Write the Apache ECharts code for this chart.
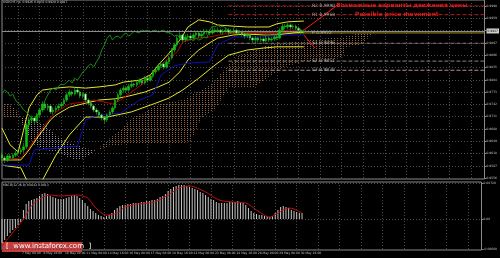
<!DOCTYPE html>
<html><head><meta charset="utf-8">
<script src="https://cdn.jsdelivr.net/npm/echarts@6/dist/echarts.min.js"></script>
<style>html,body{margin:0;padding:0;background:#000}#c{width:500px;height:258px}</style>
</head><body><div id="c"></div>
<script>
const N = 180; // bar slots incl. future area
const tickLabels = [[0,'4 May 2018'],[6,'7 May 08:00'],[14,'8 May 16:00'],[22,'10 May 00:00'],[30,'11 May 08:00'],[38,'14 May 16:00'],[46,'16 May 00:00'],[54,'17 May 08:00'],[62,'18 May 16:00'],[70,'22 May 00:00'],[78,'23 May 08:00'],[86,'24 May 16:00'],[94,'28 May 00:00'],[102,'29 May 08:00'],[110,'30 May 16:00']];
const priceTicks = [0.9990,0.9959,0.9928,0.9897,0.9866,0.9835,0.9804,0.9773,0.9742,0.9711,0.9680,0.9649,0.9618,0.9587,0.9556];
const priceLabels = [0.9990,0.9959,0.9897,0.9866,0.9835,0.9804,0.9773,0.9742,0.9711,0.9680,0.9649,0.9618,0.9587,0.9556];
const macdTicks = [0.0072,0,-0.0060];
// [open, close, low, high]
const ohlc = [
[0.9615,0.9607,0.9598,0.9620],[0.9607,0.9602,0.9594,0.9612],[0.9602,0.9612,0.9597,0.9617],[0.9612,0.9607,0.9601,0.9618],
[0.9607,0.9614,0.9603,0.9619],[0.9614,0.9619,0.9609,0.9625],[0.9619,0.9622,0.9612,0.9628],[0.9622,0.9627,0.9616,0.9633],
[0.9627,0.9635,0.9620,0.9645],[0.9635,0.9690,0.9630,0.9695],[0.9690,0.9703,0.9683,0.9710],[0.9703,0.9708,0.9695,0.9714],
[0.9708,0.9700,0.9692,0.9712],[0.9700,0.9715,0.9696,0.9720],[0.9715,0.9728,0.9710,0.9733],[0.9728,0.9743,0.9722,0.9750],
[0.9743,0.9733,0.9727,0.9748],[0.9733,0.9738,0.9726,0.9744],[0.9738,0.9723,0.9718,0.9742],[0.9723,0.9728,0.9716,0.9735],
[0.9728,0.9733,0.9722,0.9739],[0.9733,0.9738,0.9728,0.9744],[0.9738,0.9743,0.9731,0.9748],[0.9743,0.9753,0.9738,0.9758],
[0.9753,0.9766,0.9748,0.9772],[0.9766,0.9773,0.9760,0.9780],[0.9773,0.9768,0.9762,0.9777],[0.9768,0.9778,0.9764,0.9785],
[0.9778,0.9773,0.9768,0.9784],[0.9773,0.9763,0.9758,0.9777],[0.9763,0.9768,0.9757,0.9773],[0.9768,0.9753,0.9748,0.9771],
[0.9753,0.9745,0.9739,0.9757],[0.9745,0.9738,0.9732,0.9749],[0.9738,0.9728,0.9722,0.9741],[0.9728,0.9723,0.9716,0.9733],
[0.9723,0.9715,0.9709,0.9727],[0.9715,0.9708,0.9701,0.9719],[0.9708,0.9703,0.9694,0.9712],[0.9703,0.9715,0.9698,0.9719],
[0.9715,0.9723,0.9710,0.9728],[0.9723,0.9733,0.9718,0.9738],[0.9733,0.9753,0.9729,0.9758],[0.9753,0.9766,0.9748,0.9771],
[0.9766,0.9778,0.9761,0.9783],[0.9778,0.9783,0.9772,0.9790],[0.9783,0.9778,0.9773,0.9788],[0.9778,0.9788,0.9774,0.9794],
[0.9788,0.9793,0.9783,0.9799],[0.9793,0.9791,0.9785,0.9797],[0.9791,0.9798,0.9786,0.9803],[0.9798,0.9803,0.9792,0.9808],
[0.9803,0.9796,0.9790,0.9807],[0.9796,0.9808,0.9792,0.9813],[0.9808,0.9803,0.9797,0.9812],[0.9803,0.9813,0.9799,0.9818],
[0.9813,0.9824,0.9808,0.9829],[0.9824,0.9829,0.9818,0.9835],[0.9829,0.9839,0.9825,0.9845],[0.9839,0.9844,0.9833,0.9850],
[0.9844,0.9836,0.9830,0.9848],[0.9836,0.9849,0.9832,0.9854],[0.9849,0.9859,0.9844,0.9865],[0.9859,0.9879,0.9855,0.9884],
[0.9879,0.9892,0.9873,0.9898],[0.9892,0.9909,0.9887,0.9915],[0.9909,0.9917,0.9903,0.9924],[0.9917,0.9904,0.9898,0.9920],
[0.9904,0.9912,0.9899,0.9918],[0.9912,0.9914,0.9906,0.9920],[0.9914,0.9909,0.9903,0.9919],[0.9909,0.9917,0.9905,0.9922],
[0.9917,0.9922,0.9911,0.9928],[0.9922,0.9914,0.9909,0.9926],[0.9914,0.9919,0.9910,0.9925],[0.9919,0.9927,0.9915,0.9933],
[0.9927,0.9924,0.9918,0.9931],[0.9924,0.9922,0.9916,0.9929],[0.9922,0.9929,0.9918,0.9935],[0.9929,0.9927,0.9921,0.9934],
[0.9927,0.9929,0.9922,0.9936],[0.9929,0.9924,0.9919,0.9933],[0.9924,0.9927,0.9918,0.9932],[0.9927,0.9929,0.9922,0.9935],
[0.9929,0.9924,0.9918,0.9934],[0.9924,0.9927,0.9919,0.9932],[0.9927,0.9929,0.9921,0.9936],[0.9929,0.9922,0.9916,0.9933],
[0.9922,0.9924,0.9917,0.9930],[0.9924,0.9919,0.9913,0.9928],[0.9919,0.9914,0.9908,0.9923],[0.9914,0.9917,0.9909,0.9922],
[0.9917,0.9909,0.9903,0.9920],[0.9909,0.9904,0.9897,0.9913],[0.9904,0.9909,0.9899,0.9914],[0.9909,0.9904,0.9898,0.9912],
[0.9904,0.9907,0.9899,0.9912],[0.9907,0.9902,0.9896,0.9911],[0.9902,0.9909,0.9898,0.9914],[0.9909,0.9904,0.9899,0.9913],
[0.9904,0.9907,0.9900,0.9912],[0.9907,0.9912,0.9902,0.9916],[0.9912,0.9909,0.9904,0.9917],[0.9909,0.9929,0.9906,0.9934],
[0.9929,0.9939,0.9925,0.9945],[0.9939,0.9937,0.9931,0.9944],[0.9937,0.9942,0.9932,0.9948],[0.9942,0.9937,0.9931,0.9946],
[0.9937,0.9939,0.9932,0.9944],[0.9939,0.9934,0.9929,0.9943],[0.9934,0.9929,0.9924,0.9938],[0.9929,0.9924,0.9919,0.9933],
[0.9924,0.9927,0.9920,0.9930]];
// Bollinger bands [barIndex, price]
const bbUpper = [[0,0.9682],[3,0.9640],[6,0.9622],[8,0.9677],[10,0.9733],[13,0.9766],[15,0.9778],[20,0.9783],[25,0.9786],[31,0.9783],[36,0.9786],[42,0.9791],[45,0.9798],[51,0.9803],[55,0.9816],[58,0.9841],[62,0.9871],[66,0.9904],[69,0.9937],[73,0.9955],[77,0.9950],[80,0.9942],[86,0.9939],[91,0.9937],[99,0.9937],[102,0.9945],[106,0.9950],[112,0.9952]];
const bbMiddle = [[0,0.9602],[7,0.9602],[10,0.9627],[13,0.9657],[18,0.9703],[20,0.9715],[25,0.9735],[31,0.9745],[36,0.9753],[42,0.9756],[47,0.9763],[53,0.9773],[58,0.9786],[62,0.9798],[66,0.9824],[69,0.9854],[73,0.9879],[77,0.9897],[80,0.9909],[86,0.9917],[91,0.9919],[97,0.9917],[102,0.9917],[108,0.9922],[112,0.9924]];
const bbLower = [[0,0.9589],[7,0.9582],[10,0.9539],[13,0.9514],[15,0.9551],[20,0.9614],[25,0.9665],[31,0.9710],[39,0.9710],[48,0.9723],[57,0.9745],[62,0.9758],[67,0.9778],[73,0.9808],[79,0.9841],[84,0.9866],[91,0.9879],[97,0.9884],[102,0.9887],[108,0.9887],[112,0.9887]];
// Ichimoku
const tenkan = [[0,0.9602],[7,0.9607],[9,0.9622],[12,0.9652],[15,0.9682],[18,0.9708],[20,0.9723],[25,0.9743],[30,0.9748],[34,0.9753],[38,0.9748],[41,0.9743],[44,0.9753],[48,0.9773],[53,0.9798],[57,0.9829],[61,0.9854],[65,0.9874],[67,0.9899],[72,0.9909],[77,0.9912],[82,0.9919],[88,0.9922],[94,0.9922],[99,0.9919],[102,0.9924],[106,0.9929],[112,0.9929]];
const kijun = [[0,0.9589],[10,0.9589],[12,0.9627],[28,0.9637],[31,0.9703],[36,0.9715],[44,0.9720],[51,0.9753],[56,0.9766],[59,0.9816],[64,0.9839],[69,0.9846],[77,0.9849],[80,0.9892],[86,0.9912],[95,0.9912],[106,0.9917],[112,0.9917]];
const cloudIdx = [0,3,6,8,12,16,20,23,27,31,34,36,40,44,48,53,57,62,67,70,74,79,84,88,93,99,105,111,121,126,128,133,138];
const spanA = [0.9745,0.9743,0.9723,0.9682,0.9640,0.9627,0.9622,0.9614,0.9602,0.9607,0.9622,0.9632,0.9657,0.9677,0.9708,0.9723,0.9740,0.9748,0.9753,0.9766,0.9778,0.9803,0.9841,0.9866,0.9879,0.9892,0.9897,0.9902,0.9909,0.9909,0.9914,0.9922,0.9924];
const spanB = [0.9708,0.9708,0.9708,0.9708,0.9703,0.9690,0.9665,0.9652,0.9640,0.9632,0.9627,0.9627,0.9637,0.9640,0.9645,0.9645,0.9645,0.9645,0.9645,0.9647,0.9708,0.9728,0.9783,0.9783,0.9783,0.9811,0.9836,0.9849,0.9854,0.9859,0.9887,0.9892,0.9922];
const chikouShift = 26;
// MACD histogram, one per bar
const macd = [-0.0048,-0.0042,-0.0034,-0.0028,-0.0022,-0.0018,-0.0012,-0.0006,0.0018,0.0030,0.0036,0.0038,0.0040,0.0042,0.0046,0.0050,0.0052,0.0050,0.0046,0.0044,0.0042,0.0040,0.0040,0.0040,0.0042,0.0044,0.0046,0.0048,0.0046,0.0042,0.0038,0.0032,0.0026,0.0020,0.0016,0.0012,0.0008,0.0006,0.0004,0.0006,0.0008,0.0012,0.0018,0.0022,0.0026,0.0028,0.0028,0.0030,0.0030,0.0032,0.0032,0.0032,0.0034,0.0034,0.0036,0.0036,0.0038,0.0038,0.0040,0.0044,0.0046,0.0050,0.0056,0.0060,0.0064,0.0066,0.0068,0.0068,0.0068,0.0066,0.0064,0.0062,0.0060,0.0058,0.0054,0.0052,0.0048,0.0044,0.0040,0.0038,0.0034,0.0032,0.0032,0.0032,0.0032,0.0034,0.0034,0.0034,0.0036,0.0034,0.0032,0.0028,0.0022,0.0016,0.0012,0.0010,0.0008,0.0008,0.0006,0.0006,0.0004,0.0006,0.0012,0.0018,0.0024,0.0026,0.0024,0.0022,0.0018,0.0016,0.0014,0.0012,0.0012];
const signal = [[0,-0.0054],[3,-0.0034],[8,0],[12,0.0032],[18,0.0048],[22,0.0046],[28,0.0048],[32,0.0042],[35,0.0022],[39,0.0008],[43,0.0012],[46,0.0024],[51,0.0030],[57,0.0034],[62,0.0048],[67,0.0064],[70,0.0066],[76,0.0054],[81,0.0038],[86,0.0034],[91,0.0032],[95,0.0018],[100,0.0004],[103,0.0012],[107,0.0022],[109,0.0020],[112,0.0012]];
const pivotNames = ['R2','R1','P','S1','S2','S3'];
const pivotValues = [0.9990,0.9968,0.9922,0.9896,0.9851,0.9828];
const pivotStart = 84;
const lastPrice = 0.9927;
const forecastUp = [[112,0.9929],[125,0.9995]];
const forecastDown = [[112,0.9917],[116,0.9884]];

const cats = Array.from({length:N},(_,i)=>String(i));
const labelMap = new Map(tickLabels);
function pat(col){const c=document.createElement('canvas');c.width=3;c.height=2;const g=c.getContext('2d');g.fillStyle=col;g.fillRect(1,0,1,1);return {image:c,repeat:'repeat'};}
const patBull = pat('rgba(160,105,65,0.95)'), patBear = pat('rgba(175,160,175,0.9)');
const segs=[];for(let k=0;k<cloudIdx.length-1;k++)segs.push([cloudIdx[k],spanA[k],spanB[k],cloudIdx[k+1],spanA[k+1],spanB[k+1]]);
const gridLine = (i)=> i>=6 && (i-6)%8===0;
const FONT='DejaVu Sans';
const chart = echarts.init(document.getElementById('c'),null,{renderer:'canvas'});
const pivotColors=['#b02020','#b02020','#a08a20','#8a7a70','#8a8080','#b09090'];
const series=[
 {type:'custom',xAxisIndex:0,yAxisIndex:0,z:1,silent:true,
  renderItem:(p,api)=>{const a0=api.coord([api.value(0),api.value(1)]),b0=api.coord([api.value(0),api.value(2)]),a1=api.coord([api.value(3),api.value(4)]),b1=api.coord([api.value(3),api.value(5)]);
   const bull=(api.value(1)+api.value(4))>=(api.value(2)+api.value(5));
   return {type:'polygon',shape:{points:[a0,a1,b1,b0]},style:{fill:bull?patBull:patBear}};},
  encode:{x:[0,3],y:[1,2,4,5]},data:segs},
 {type:'line',data:bbUpper,symbol:'none',lineStyle:{color:'#e6e62a',width:1},z:3},
 {type:'line',data:bbMiddle,symbol:'none',lineStyle:{color:'#e6e62a',width:1},z:3},
 {type:'line',data:bbLower,symbol:'none',lineStyle:{color:'#e6e62a',width:1},z:3},
 {type:'line',data:kijun,symbol:'none',lineStyle:{color:'#1010b0',width:1},z:3},
 {type:'line',data:tenkan,symbol:'none',lineStyle:{color:'#b00000',width:1},z:3},
 {type:'line',data:ohlc.map((d,i)=>[i-chikouShift,d[1]]).filter(d=>d[0]>=0),symbol:'none',lineStyle:{color:'#1a8a1a',width:1},z:3},
 {type:'candlestick',data:ohlc,barWidth:2,z:5,
  itemStyle:{color:'#10c010',color0:'#f0f0f0',borderColor:'#10c010',borderColor0:'#10c010',borderWidth:0.6},
  markLine:{silent:true,symbol:'none',precision:4,data:[{yAxis:lastPrice}],lineStyle:{color:'#8a8a8a',type:'solid',width:1},
   label:{position:'end',formatter:lastPrice.toFixed(4),backgroundColor:'#d0d0d0',color:'#000',fontSize:3,fontFamily:FONT,padding:[1,1],distance:2}}},
];
pivotValues.forEach((v,k)=>series.push({type:'line',data:[[pivotStart,v],[N-1,v]],symbol:'none',z:2,
  lineStyle:{color:pivotColors[k],width:1,type:k===2?'solid':[4,2]}}));
series.push({type:'scatter',symbolSize:0,z:6,data:pivotValues.map((v,k)=>[115,v,pivotNames[k]+' '+v.toFixed(4)]),
  label:{show:true,position:'right',distance:0,formatter:p=>p.data[2],color:'#c8c8c8',fontSize:4.5,fontFamily:FONT}});
series.push({type:'line',data:forecastUp,symbol:'none',lineStyle:{color:'#ff1a1a',width:1},z:6});
series.push({type:'line',data:forecastDown,symbol:'none',lineStyle:{color:'#ff1a1a',width:1},z:6});
series.push({type:'scatter',symbolSize:0,z:7,data:[[124,0.99905,'Возможные варианты движения цены'],[131,0.99685,'Possible price movement']],
  label:{show:true,position:'right',distance:0,formatter:p=>p.data[2],color:'#ff2020',fontSize:5.9,fontWeight:'bold',fontFamily:FONT}});
series.push({type:'bar',xAxisIndex:1,yAxisIndex:1,data:macd,barWidth:1,itemStyle:{color:'#c8c8c8'},z:3});
series.push({type:'line',xAxisIndex:1,yAxisIndex:1,data:signal,symbol:'none',smooth:0.3,lineStyle:{color:'#c01010',width:1},z:4});

const xBase = {type:'category',data:cats,boundaryGap:false,axisLine:{show:false},axisTick:{show:false},
  splitLine:{show:true,interval:(i)=>gridLine(i),lineStyle:{color:'#4a4a4a',type:[1,2],width:1}}};
chart.setOption({
 backgroundColor:'#000',animation:false,
 grid:[{left:2,top:0,width:484.5,height:179,show:true,borderColor:'#8a8a8a',borderWidth:1},
       {left:2,top:182,width:484.5,height:68,show:true,borderColor:'#8a8a8a',borderWidth:1}],
 xAxis:[Object.assign({},xBase,{gridIndex:0,axisLabel:{show:false}}),
        Object.assign({},xBase,{gridIndex:1,axisLabel:{show:true,interval:(i)=>labelMap.has(i),formatter:(v,i)=>labelMap.get(i)||'',
          align:'left',margin:1.5,padding:[0,0,0,4],color:'#c0c0c0',fontSize:3,fontFamily:FONT}})],
 yAxis:[{type:'value',gridIndex:0,position:'right',min:0.9554,max:1.0005,axisLine:{show:false},
         axisTick:{show:true,customValues:priceTicks,length:2,lineStyle:{color:'#8a8a8a'}},
         axisLabel:{customValues:priceLabels,formatter:v=>v.toFixed(4),color:'#c0c0c0',fontSize:3,fontFamily:FONT,margin:2},
         splitLine:{show:true,lineStyle:{color:'#4a4a4a',type:[1,2],width:1}}},
        {type:'value',gridIndex:1,position:'right',min:-0.0062,max:0.0074,axisLine:{show:false},
         axisTick:{show:true,customValues:macdTicks,length:2,lineStyle:{color:'#8a8a8a'}},
         axisLabel:{customValues:macdTicks,formatter:v=>v===0?'0.00':v.toFixed(5),color:'#c0c0c0',fontSize:3,fontFamily:FONT,margin:2},
         splitLine:{show:true,lineStyle:{color:'#4a4a4a',type:[1,2],width:1}}}],
 series,
 graphic:[
  {type:'text',left:3,top:1,style:{text:'USDCHF,H4  0.9926 0.9933 0.9920 0.9927',fill:'#d0d0d0',font:'3px '+FONT}},
  {type:'text',left:3,top:184,style:{text:'MACD(12,26,9) 0.0012 0.0013',fill:'#d0d0d0',font:'3px '+FONT}},
  {type:'rect',left:2,top:242,shape:{width:80,height:10},style:{fill:'#c43c3c'}},
  {type:'text',left:6,top:243,style:{text:'[  www.instaforex.com  ]',fill:'#fff',font:'7px '+FONT}}
 ]
});
</script></body></html>
